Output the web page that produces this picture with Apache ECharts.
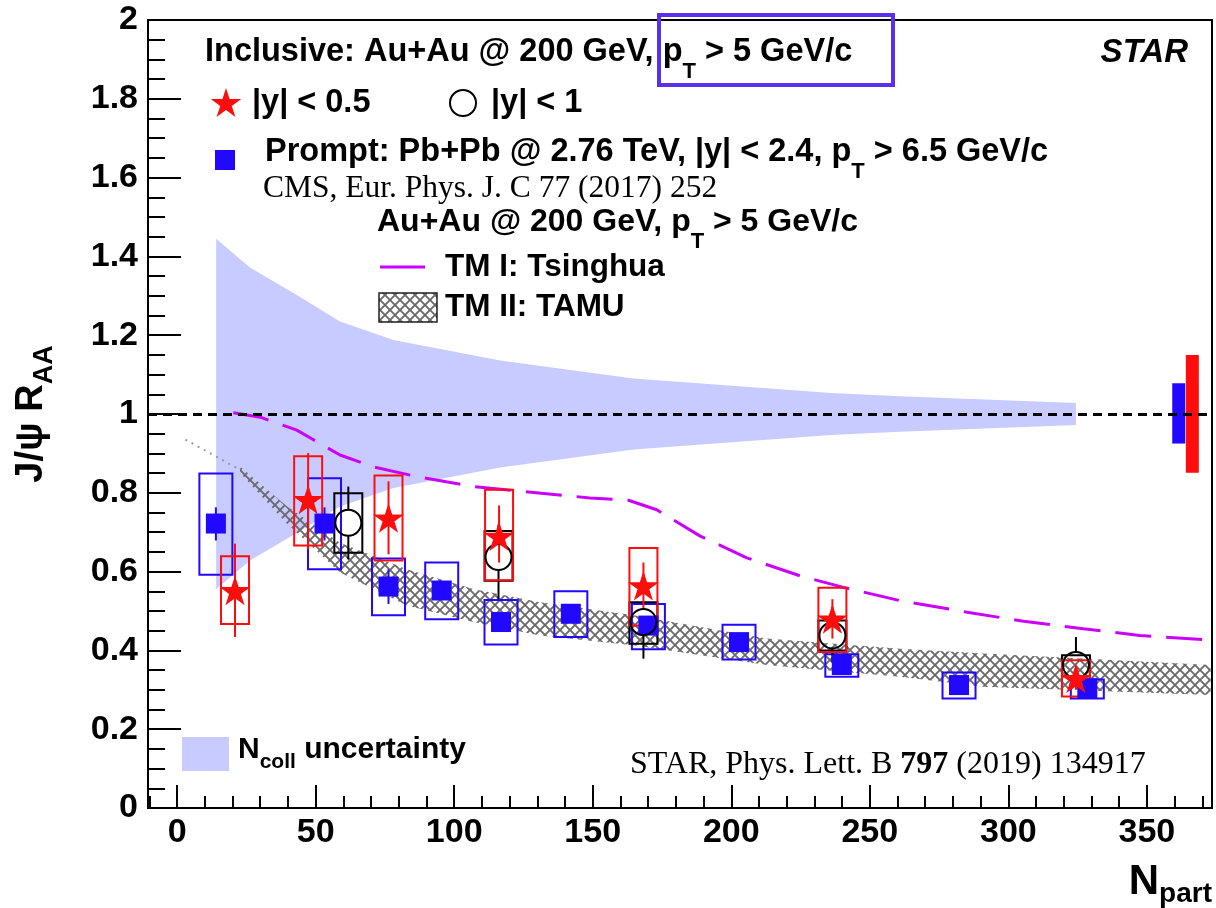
<!DOCTYPE html>
<html>
<head>
<meta charset="utf-8">
<script src="https://cdn.jsdelivr.net/npm/echarts@6/dist/echarts.min.js"></script>
<style>
html,body{margin:0;padding:0;background:#fff;}
#chart{width:1216px;height:908px;}
</style>
</head>
<body>
<div id="chart"></div>
<script>
// ---------------- DATA ----------------
// STAR inclusive J/psi, |y| < 0.5 (red stars)
const starNpart  = [20.9, 47.3, 76.3, 116.2, 168.3, 236.5, 324.4];
const starRaa    = [0.552, 0.783, 0.736, 0.690, 0.564, 0.480, 0.329];
const starStatLo = [0.434, 0.657, 0.644, 0.623, 0.506, 0.430, 0.300];
const starStatHi = [0.671, 0.901, 0.829, 0.768, 0.623, 0.530, 0.360];
const starSysLo  = [0.467, 0.666, 0.628, 0.578, 0.463, 0.396, 0.283];
const starSysHi  = [0.639, 0.893, 0.844, 0.808, 0.660, 0.559, 0.375];

// STAR inclusive J/psi, |y| < 1 (open circles)
const circNpart  = [61.8, 116.0, 168.3, 236.5, 324.4];
const circRaa    = [0.724, 0.637, 0.472, 0.438, 0.363];
const circStatLo = [0.631, 0.530, 0.379, 0.370, 0.330];
const circStatHi = [0.816, 0.720, 0.505, 0.510, 0.434];
const circSysLo  = [0.648, 0.577, 0.417, 0.400, 0.335];
const circSysHi  = [0.799, 0.703, 0.522, 0.476, 0.388];

// CMS prompt J/psi, Pb+Pb 2.76 TeV (blue squares)
const cmsNpart  = [14.0, 53.2, 76.3, 95.5, 116.9, 142.1, 170.1, 202.8, 239.9, 282.2, 328.5];
const cmsRaa    = [0.722, 0.722, 0.562, 0.552, 0.472, 0.493, 0.463, 0.421, 0.363, 0.312, 0.304];
const cmsStatLo = [0.679, 0.679, 0.518, 0.530, 0.455, 0.478, 0.448, 0.408, 0.352, 0.302, 0.294];
const cmsStatHi = [0.763, 0.763, 0.606, 0.575, 0.490, 0.510, 0.480, 0.435, 0.375, 0.322, 0.314];
const cmsSysLo  = [0.592, 0.606, 0.489, 0.479, 0.415, 0.434, 0.403, 0.377, 0.333, 0.278, 0.278];
const cmsSysHi  = [0.849, 0.837, 0.633, 0.623, 0.528, 0.550, 0.518, 0.465, 0.390, 0.344, 0.326];

// N_coll uncertainty band (around unity)
const ncollNpart = [14.1, 26.3, 43.2, 58.8, 78.1, 116.6, 164.7, 236.0, 260.9, 324.4];
const ncollHalf  = [0.445, 0.372, 0.302, 0.235, 0.188, 0.136, 0.090, 0.053, 0.045, 0.028];

// TM I: Tsinghua
const tm1Npart = [20.3, 30.0, 43.2, 48.6, 58.8, 70.8, 86.5, 106.9, 128.6, 149.0, 162.9, 173.1, 188.8, 205.6, 224.9, 240.5, 261.1, 285.1, 305.5, 327.1, 347.5, 373.0];
const tm1Raa   = [1.003, 0.992, 0.959, 0.937, 0.896, 0.866, 0.841, 0.816, 0.801, 0.787, 0.781, 0.757, 0.690, 0.635, 0.589, 0.560, 0.526, 0.497, 0.474, 0.455, 0.438, 0.426];

// TM II: TAMU band
const tamuNpart = [3.0, 22.7, 39.6, 58.8, 82.9, 106.9, 131.0, 164.7, 212.8, 260.9, 291.0, 373.0];
const tamuHigh  = [0.940, 0.867, 0.766, 0.673, 0.606, 0.556, 0.522, 0.489, 0.430, 0.404, 0.392, 0.363];
const tamuLow   = [0.930, 0.850, 0.722, 0.598, 0.514, 0.472, 0.438, 0.413, 0.363, 0.333, 0.308, 0.287];

// Global uncertainties (CMS blue, STAR red)
const globalNpart = [361.5, 366.4];
const globalLo    = [0.925, 0.851];
const globalHi    = [1.078, 1.150];

// Axis ticks
const xMajorTicks = [0, 50, 100, 150, 200, 250, 300, 350];
const xMinorTicks = [-10, 0, 10, 20, 30, 40, 50, 60, 70, 80, 90, 100, 110, 120, 130, 140, 150, 160, 170, 180, 190, 200, 210, 220, 230, 240, 250, 260, 270, 280, 290, 300, 310, 320, 330, 340, 350, 360, 370];
const yTickLabels = ['0', '0.2', '0.4', '0.6', '0.8', '1', '1.2', '1.4', '1.6', '1.8', '2'];
const unityValue = 1;

// ---------------- STYLE ----------------
const SANS = '"Liberation Sans", Arial, Helvetica, sans-serif';
const SERIF = '"Liberation Serif", "Times New Roman", serif';
const RED = '#ff0d0d';
const BLUE = '#2208ff';
const BAND = '#c8cbff';
const MAGENTA = '#cc00ff';

function makeHatch() {
  const n = 10;
  const c = document.createElement('canvas');
  c.width = n; c.height = n;
  const g = c.getContext('2d');
  g.strokeStyle = '#6a6a6a';
  g.lineWidth = 1.9;
  g.beginPath();
  g.moveTo(-2, -2); g.lineTo(n + 2, n + 2);
  g.moveTo(n + 2, -2); g.lineTo(-2, n + 2);
  g.stroke();
  return c;
}
const hatchPattern = { image: makeHatch(), repeat: 'repeat' };

function starPoints(cx, cy, R) {
  const r = R * 0.382;
  const pts = [];
  for (let k = 0; k < 10; k++) {
    const a = -Math.PI / 2 + k * Math.PI / 5;
    const rr = k % 2 === 0 ? R : r;
    pts.push([cx + rr * Math.cos(a), cy + rr * Math.sin(a)]);
  }
  return pts;
}
const STAR_PATH = 'path://M0,-1 L0.2245,-0.309 L0.951,-0.309 L0.363,0.118 L0.588,0.809 L0,0.382 L-0.588,0.809 L-0.363,0.118 L-0.951,-0.309 L-0.2245,-0.309 Z';

function zip(...arrs) { return arrs[0].map((_, i) => arrs.map(a => a[i])); }

function bandSeries(xs, lo, hi, fill, z) {
  return {
    type: 'custom', z: z, silent: true, clip: true,
    data: zip(xs, lo, hi),
    encode: { x: 0, y: [1, 2] },
    renderItem: function (params, api) {
      if (params.dataIndex !== 0) return null;
      const pts = [];
      for (let i = 0; i < xs.length; i++) pts.push(api.coord([xs[i], hi[i]]));
      for (let i = xs.length - 1; i >= 0; i--) pts.push(api.coord([xs[i], lo[i]]));
      return { type: 'polygon', shape: { points: pts }, style: { fill: fill, stroke: null } };
    }
  };
}

function errSeries(xs, ys, sLo, sHi, yLo, yHi, color, boxW, gap, z) {
  return {
    type: 'custom', z: z, silent: true, clip: false,
    data: zip(xs, ys, sLo, sHi, yLo, yHi),
    encode: { x: 0, y: 1 },
    renderItem: function (params, api) {
      const x = api.value(0);
      const c = api.coord([x, api.value(1)]);
      const pSH = api.coord([x, api.value(3)]);
      const pSL = api.coord([x, api.value(2)]);
      const pBH = api.coord([x, api.value(5)]);
      const pBL = api.coord([x, api.value(4)]);
      const children = [{
        type: 'rect',
        shape: { x: c[0] - boxW / 2, y: pBH[1], width: boxW, height: pBL[1] - pBH[1] },
        style: { fill: null, stroke: color, lineWidth: 2 }
      }];
      if (pSH[1] < c[1] - gap) children.push({ type: 'line', shape: { x1: c[0], y1: pSH[1], x2: c[0], y2: c[1] - gap }, style: { stroke: color, lineWidth: 2 } });
      if (pSL[1] > c[1] + gap) children.push({ type: 'line', shape: { x1: c[0], y1: c[1] + gap, x2: c[0], y2: pSL[1] }, style: { stroke: color, lineWidth: 2 } });
      return { type: 'group', children: children };
    }
  };
}

const subStyle = (size, pad) => ({ fontFamily: SANS, fontWeight: 'bold', fontSize: size, color: '#000', padding: [pad, 0, 0, 0] });
const mainStyle = (size) => ({ fontFamily: SANS, fontWeight: 'bold', fontSize: size, color: '#000' });

function legendText(x, y, text, size, subSize, subPad) {
  return {
    type: 'text', x: x, y: y, z: 100,
    style: {
      text: text, align: 'left', verticalAlign: 'middle',
      fontFamily: SANS, fontWeight: 'bold', fontSize: size, fill: '#000',
      rich: { m: mainStyle(size), s: subStyle(subSize || Math.round(size * 0.7), subPad || 16) }
    }
  };
}

const chart = echarts.init(document.getElementById('chart'), null, { renderer: 'canvas' });

const option = {
  animation: false,
  backgroundColor: '#fff',
  grid: { left: 148, right: 4, top: 20, bottom: 94, show: true, borderColor: '#000', borderWidth: 2, backgroundColor: 'transparent' },
  xAxis: [
    {
      type: 'value', min: -10.5, max: 373.5, position: 'bottom',
      axisLine: { show: true, onZero: false, lineStyle: { color: '#000', width: 2 } },
      axisTick: { show: true, inside: true, length: 23, customValues: xMajorTicks, lineStyle: { color: '#000', width: 2 } },
      axisLabel: { customValues: xMajorTicks, fontFamily: SANS, fontWeight: 'bold', fontSize: 34, color: '#000', margin: 8 },
      splitLine: { show: false },
      name: '{m|N}{s|part}', nameLocation: 'end', nameGap: 0,
      nameTextStyle: {
        align: 'right', verticalAlign: 'top', padding: [48, 0, 0, 0],
        rich: { m: mainStyle(42), s: subStyle(28, 24) }
      }
    },
    {
      type: 'value', min: -10.5, max: 373.5, position: 'bottom',
      axisLine: { show: false, onZero: false },
      axisTick: { show: true, inside: true, length: 12, customValues: xMinorTicks, lineStyle: { color: '#000', width: 2 } },
      axisLabel: { show: false },
      splitLine: { show: false }
    }
  ],
  yAxis: {
    type: 'value', min: 0, max: 2, interval: 0.2,
    axisLine: { show: true, onZero: false, lineStyle: { color: '#000', width: 2 } },
    axisTick: { show: true, inside: true, length: 33, lineStyle: { color: '#000', width: 2 } },
    minorTick: { show: true, splitNumber: 4, length: 17, lineStyle: { color: '#000', width: 2 } },
    axisLabel: {
      formatter: v => yTickLabels[Math.round(v / 0.2)],
      fontFamily: SANS, fontWeight: 'bold', fontSize: 34, color: '#000', margin: 10
    },
    splitLine: { show: false },
    name: '{m|J/ψ R}{s|AA}', nameLocation: 'middle', nameRotate: 90, nameGap: 90,
    nameTextStyle: { rich: { m: mainStyle(38), s: subStyle(27, 26) } }
  },
  series: [
    bandSeries(ncollNpart, ncollHalf.map(h => unityValue - h), ncollHalf.map(h => unityValue + h), BAND, 1),
    bandSeries(tamuNpart.slice(1), tamuLow.slice(1), tamuHigh.slice(1), hatchPattern, 2),
    {
      type: 'line', z: 2, silent: true, symbol: 'none',
      data: zip(tamuNpart.slice(0, 2), tamuLow.slice(0, 2).map((l, i) => (l + tamuHigh[i]) / 2)),
      lineStyle: { color: '#9a9a9a', width: 2, type: [2, 5] }
    },
    {
      type: 'line', z: 3, silent: true, symbol: 'none',
      data: zip(tm1Npart, tm1Raa),
      lineStyle: { color: MAGENTA, width: 3, type: [36, 15] },
      markLine: {
        silent: true, symbol: 'none', label: { show: false },
        lineStyle: { color: '#000', width: 3, type: [9, 6] },
        data: [{ yAxis: unityValue }]
      }
    },
    {
      type: 'custom', z: 4, silent: true,
      data: zip(globalNpart, globalLo, globalHi),
      encode: { x: 0, y: [1, 2] },
      renderItem: function (params, api) {
        const x = api.value(0);
        const top = api.coord([x, api.value(2)]);
        const bot = api.coord([x, api.value(1)]);
        return { type: 'rect', shape: { x: top[0] - 6.5, y: top[1], width: 13, height: bot[1] - top[1] },
          style: { fill: params.dataIndex === 0 ? BLUE : RED } };
      }
    },
    errSeries(cmsNpart, cmsRaa, cmsStatLo, cmsStatHi, cmsSysLo, cmsSysHi, BLUE, 33, 0, 4),
    errSeries(circNpart, circRaa, circStatLo, circStatHi, circSysLo, circSysHi, '#000', 28, 13, 4),
    errSeries(starNpart, starRaa, starStatLo, starStatHi, starSysLo, starSysHi, RED, 28, 0, 4),
    {
      type: 'scatter', z: 5, silent: true, data: zip(cmsNpart, cmsRaa),
      symbol: 'rect', symbolSize: 20, itemStyle: { color: BLUE, opacity: 1 }
    },
    {
      type: 'scatter', z: 5, silent: true, data: zip(circNpart, circRaa),
      symbol: 'circle', symbolSize: 26, itemStyle: { color: 'rgba(0,0,0,0)', borderColor: '#000', borderWidth: 2, opacity: 1 }
    },
    {
      type: 'scatter', z: 5, silent: true, data: zip(starNpart, starRaa),
      symbol: STAR_PATH, symbolSize: [31, 29.5], itemStyle: { color: RED, opacity: 1 }
    }
  ],
  graphic: [
    legendText(205, 52, '{m|Inclusive: Au+Au @ 200 GeV, p}{s|T}{m| > 5 GeV/c}', 32.5, 22, 40),
    { type: 'rect', z: 101, shape: { x: 659, y: 15, width: 234, height: 70 }, style: { fill: null, stroke: '#5a30ef', lineWidth: 4 } },
    { type: 'polygon', z: 100, shape: { points: starPoints(226, 104, 16) }, style: { fill: RED } },
    legendText(252, 103, '{m||y| < 0.5}', 32.5),
    { type: 'circle', z: 100, shape: { cx: 463, cy: 103, r: 13 }, style: { fill: null, stroke: '#000', lineWidth: 2 } },
    legendText(491, 103, '{m||y| < 1}', 32.5),
    { type: 'rect', z: 100, shape: { x: 215, y: 150, width: 20, height: 20 }, style: { fill: BLUE } },
    legendText(265, 152, '{m|Prompt: Pb+Pb @ 2.76 TeV, |y| < 2.4, p}{s|T}{m| > 6.5 GeV/c}', 32.5, 22, 40),
    { type: 'text', z: 100, x: 263, y: 189, style: { text: 'CMS, Eur. Phys. J. C 77 (2017) 252', align: 'left', verticalAlign: 'middle', fontFamily: SERIF, fontSize: 31.5, fill: '#000' } },
    legendText(377, 222, '{m|Au+Au @ 200 GeV, p}{s|T}{m| > 5 GeV/c}', 32, 22, 40),
    { type: 'line', z: 100, shape: { x1: 380, y1: 267, x2: 425, y2: 267 }, style: { stroke: MAGENTA, lineWidth: 3 } },
    legendText(445, 267, '{m|TM I: Tsinghua}', 31.5),
    { type: 'rect', z: 100, shape: { x: 379, y: 293, width: 58, height: 29 }, style: { fill: hatchPattern, stroke: '#222', lineWidth: 1.5 } },
    legendText(445, 307, '{m|TM II: TAMU}', 31.5),
    { type: 'text', z: 100, x: 1188, y: 53, style: { text: 'STAR', align: 'right', verticalAlign: 'middle', fontFamily: SANS, fontWeight: 'bold', fontStyle: 'italic', fontSize: 33, fill: '#000' } },
    { type: 'rect', z: 100, shape: { x: 182, y: 737, width: 47, height: 34 }, style: { fill: BAND } },
    legendText(238, 750, '{m|N}{s|coll}{m| uncertainty}', 30, 21, 24),
    {
      type: 'text', z: 100, x: 630, y: 765,
      style: {
        text: '{r|STAR, Phys. Lett. B }{b|797}{r| (2019) 134917}', align: 'left', verticalAlign: 'middle',
        fontFamily: SERIF, fontSize: 32, fill: '#000',
        rich: { r: { fontFamily: SERIF, fontSize: 32, color: '#000' }, b: { fontFamily: SERIF, fontSize: 32, fontWeight: 'bold', color: '#000' } }
      }
    }
  ]
};
chart.setOption(option);
</script>
</body>
</html>
